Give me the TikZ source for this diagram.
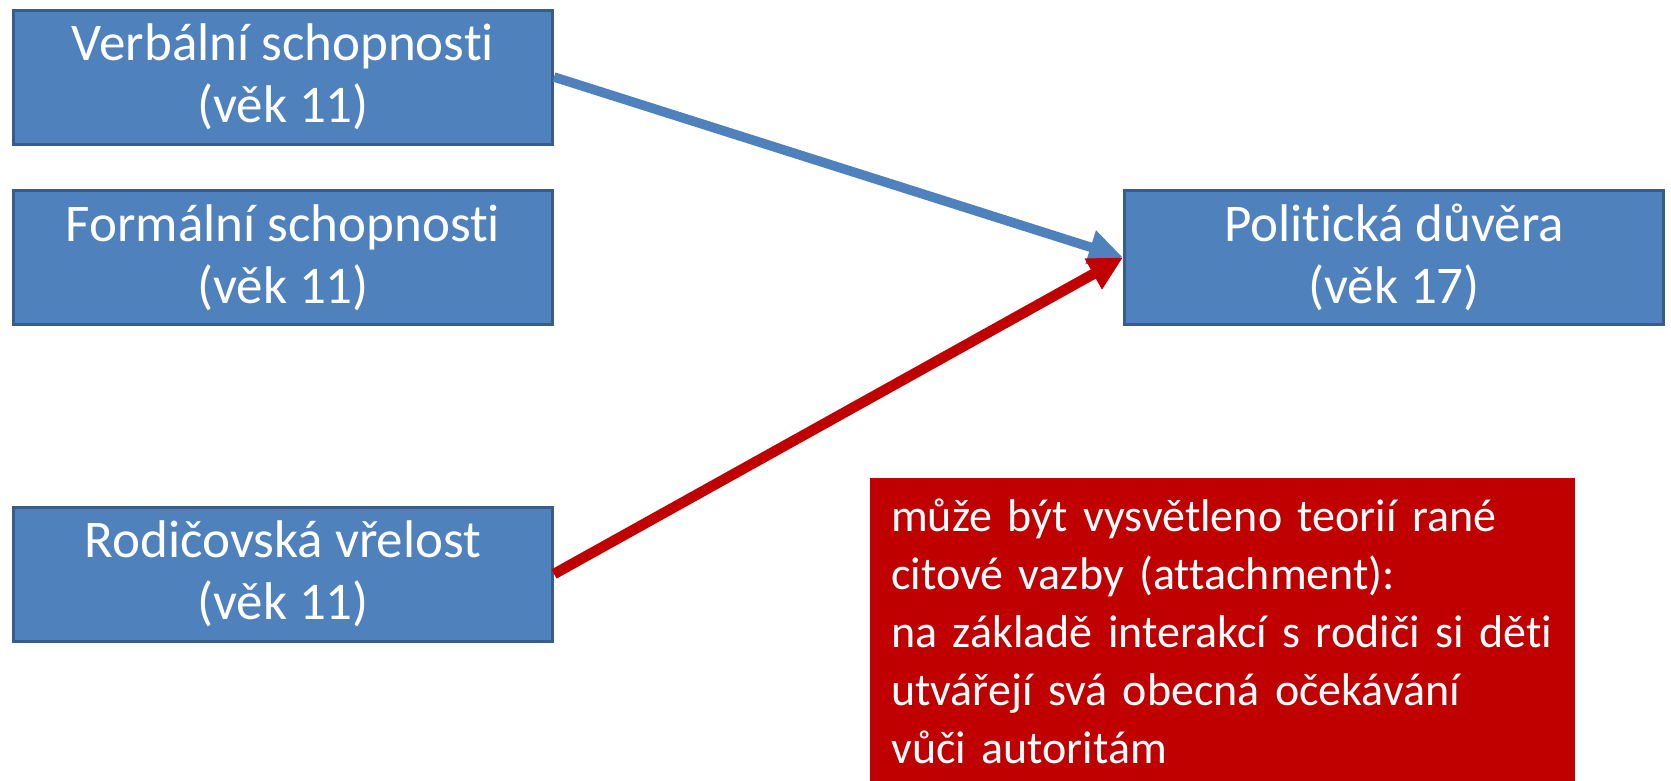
\documentclass[tikz,border=0pt]{standalone}
\usepackage{fontspec}
\setmainfont{Carlito}[Ligatures=NoCommon]
\usetikzlibrary{arrows.meta}
\definecolor{boxblue}{HTML}{4F81BD}
\definecolor{boxedge}{HTML}{385D8A}
\definecolor{notered}{HTML}{C00000}

\begin{document}
\begin{tikzpicture}[x=1pt,y=-1pt,
  var/.style={draw=boxedge,line width=3pt,fill=boxblue,text=white,
    minimum width=539pt,minimum height=134pt,inner sep=0pt,align=center,
    font=\fontsize{53}{62}\selectfont},
  note/.style={fill=notered,minimum width=705pt,minimum height=330pt,
    inner sep=0pt,anchor=north west},
  notetext/.style={text=white,text width=663pt,inner sep=0pt,align=left,
    anchor=north west,font=\fontsize{46}{57.8}\selectfont},
  link/.style={line width=9.5pt,-{Triangle[length=34pt,width=33pt]}}]
  \useasboundingbox (0,0) rectangle (1671,780);
  \node[note] (5) at (870,478) {};
  \node[var] (1) at (283,77) {Verbální schopnosti\\(věk 11)};
  \node[var] (2) at (283,257.5) {Formální schopnosti\\(věk 11)};
  \node[var] (3) at (283,574) {Rodičovská vřelost\\(věk 11)};
  \node[var] (4) at (1394,257.5) {Politická důvěra\\(věk 17)};
  \node[notetext] (6) at (891,499) {může být vysvětleno teorií rané\\
    citové vazby (attachment):\\
    na základě interakcí s rodiči si děti\\
    utvářejí svá obecná očekávání\\
    vůči autoritám};
  \draw[link,boxblue] (1.east) -- (4.west);
  \draw[link,notered,line width=10.5pt] (3.east) -- (4.west);
\end{tikzpicture}
\end{document}
